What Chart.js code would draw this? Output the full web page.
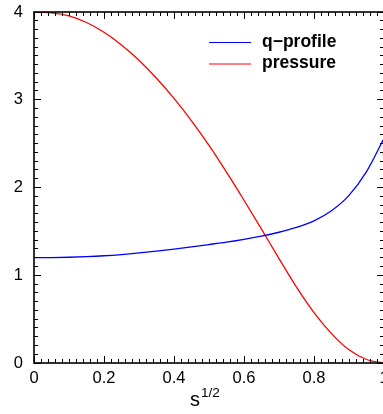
<!DOCTYPE html>
<html>
<head>
<meta charset="utf-8">
<script src="https://cdn.jsdelivr.net/npm/chart.js@4.4.1/dist/chart.umd.min.js"></script>
<style>
html,body{margin:0;padding:0;overflow:hidden;background:#fff;width:383px;height:414px;}
canvas{display:block;}
</style>
</head>
<body>
<canvas id="c" width="389" height="414"></canvas>
<script>
// ---- data ----
const sPressure = [0, 0.05, 0.1, 0.15, 0.2, 0.25, 0.3, 0.35, 0.4, 0.45, 0.5, 0.55, 0.6, 0.65, 0.7, 0.75, 0.8, 0.85, 0.9, 0.95, 1.0];
const pressure  = [4.0, 3.99, 3.955, 3.88, 3.77, 3.625, 3.45, 3.245, 3.015, 2.76, 2.48, 2.175, 1.855, 1.525, 1.19, 0.865, 0.575, 0.335, 0.15, 0.04, 0.0];
const sQ = [0, 0.05, 0.1, 0.15, 0.2, 0.25, 0.3, 0.35, 0.4, 0.45, 0.5, 0.55, 0.6, 0.65, 0.7, 0.75, 0.8, 0.85, 0.9, 0.95, 1.0];
const qProfile = [1.2, 1.201, 1.205, 1.212, 1.222, 1.236, 1.254, 1.275, 1.298, 1.323, 1.35, 1.378, 1.41, 1.447, 1.49, 1.545, 1.62, 1.735, 1.91, 2.18, 2.56];
const seriesNames = ['q\u2212profile', 'pressure'];
const xTicks = [0, 0.2, 0.4, 0.6, 0.8, 1];
const yTicks = [0, 1, 2, 3, 4];

const FONT = '"Liberation Sans", Arial, Helvetica, sans-serif';

const frameTicks = {
  id: 'frameTicks',
  afterDraw(chart) {
    const {ctx, chartArea: a, scales: {x, y}} = chart;
    ctx.save();
    // frame
    ctx.strokeStyle = '#000';
    ctx.lineWidth = 1.6;
    ctx.strokeRect(a.left, a.top, a.right - a.left, a.bottom - a.top);
    // inward tick marks on all four sides (minor 0.02 / 0.1, major 0.2 / 1)
    const L = Math.round(a.left), R = Math.round(a.right), T = Math.round(a.top), B = Math.round(a.bottom);
    ctx.fillStyle = '#000';
    for (let i = 0; i <= 50; i++) {
      const px = Math.round(x.getPixelForValue(i * 0.02) - 0.5);
      const len = (i % 10 === 0) ? 7 : 4;
      ctx.fillRect(px, B - len, 1, len);
      ctx.fillRect(px, T, 1, len);
    }
    for (let i = 0; i <= 40; i++) {
      const py = Math.round(y.getPixelForValue(i * 0.1) - 0.5);
      const len = (i % 10 === 0) ? 7 : 4;
      ctx.fillRect(L, py, len, 1);
      ctx.fillRect(R - len, py, len, 1);
    }
    // legend
    const ds = chart.data.datasets;
    ctx.font = 'bold 17.5px ' + FONT;
    ctx.textBaseline = 'middle';
    ds.forEach((d, i) => {
      const yy = a.top + 30.5 + i * 21.5;
      ctx.strokeStyle = d.borderColor;
      ctx.lineWidth = 1.2;
      ctx.beginPath();
      ctx.moveTo(a.left + 175, yy); ctx.lineTo(a.left + 217, yy);
      ctx.stroke();
      ctx.fillStyle = '#000';
      ctx.fillText(d.label, a.left + 228, yy - 0.5);
    });
    // superscript of axis title
    ctx.font = '20px ' + FONT;
    const title = x.options.title.text;
    const tw = ctx.measureText(title).width;
    const sw = ctx.measureText('s').width;
    const cx = (a.left + a.right) / 2;
    const sRight = cx - tw / 2 + sw;
    ctx.font = '13.5px ' + FONT;
    ctx.fillStyle = '#000';
    ctx.textBaseline = 'alphabetic';
    ctx.fillText('1/2', sRight + 1, 397);
    ctx.restore();
  }
};

new Chart(document.getElementById('c'), {
  type: 'line',
  data: {
    datasets: [
      { label: seriesNames[0], data: sQ.map((s, i) => ({x: s, y: qProfile[i]})),
        borderColor: '#0000ff', borderWidth: 1.3, pointRadius: 0, fill: false, cubicInterpolationMode: 'monotone' },
      { label: seriesNames[1], data: sPressure.map((s, i) => ({x: s, y: pressure[i]})),
        borderColor: '#ff0000', borderWidth: 1.3, pointRadius: 0, fill: false, cubicInterpolationMode: 'monotone' }
    ]
  },
  options: {
    responsive: false,
    animation: false,
    devicePixelRatio: 1,
    layout: { padding: { top: 12, left: 0, right: 5, bottom: 0 } },
    plugins: { legend: { display: false }, tooltip: { enabled: false } },
    scales: {
      x: {
        type: 'linear', min: 0, max: 1,
        afterBuildTicks: (sc) => { sc.ticks = xTicks.map(v => ({value: v})); },
        afterFit: (sc) => { sc.height = 51; sc.paddingLeft = 0; sc.paddingRight = 0; },
        ticks: { color: '#000', font: { family: FONT, size: 16.5 }, padding: 6, maxRotation: 0,
                 callback: (v) => String(v) },
        grid: { display: false, drawTicks: false },
        border: { display: false },
        title: { display: true, text: 's     ', color: '#000', font: { family: FONT, size: 20 }, padding: 2 }
      },
      y: {
        type: 'linear', min: 0, max: 4,
        afterBuildTicks: (sc) => { sc.ticks = yTicks.map(v => ({value: v})); },
        afterFit: (sc) => { sc.width = 34; sc.paddingTop = 0; sc.paddingBottom = 0; },
        ticks: { color: '#000', font: { family: FONT, size: 16.5 }, padding: 11, callback: (v) => String(v) },
        grid: { display: false, drawTicks: false },
        border: { display: false }
      }
    }
  },
  plugins: [frameTicks]
});
</script>
</body>
</html>
